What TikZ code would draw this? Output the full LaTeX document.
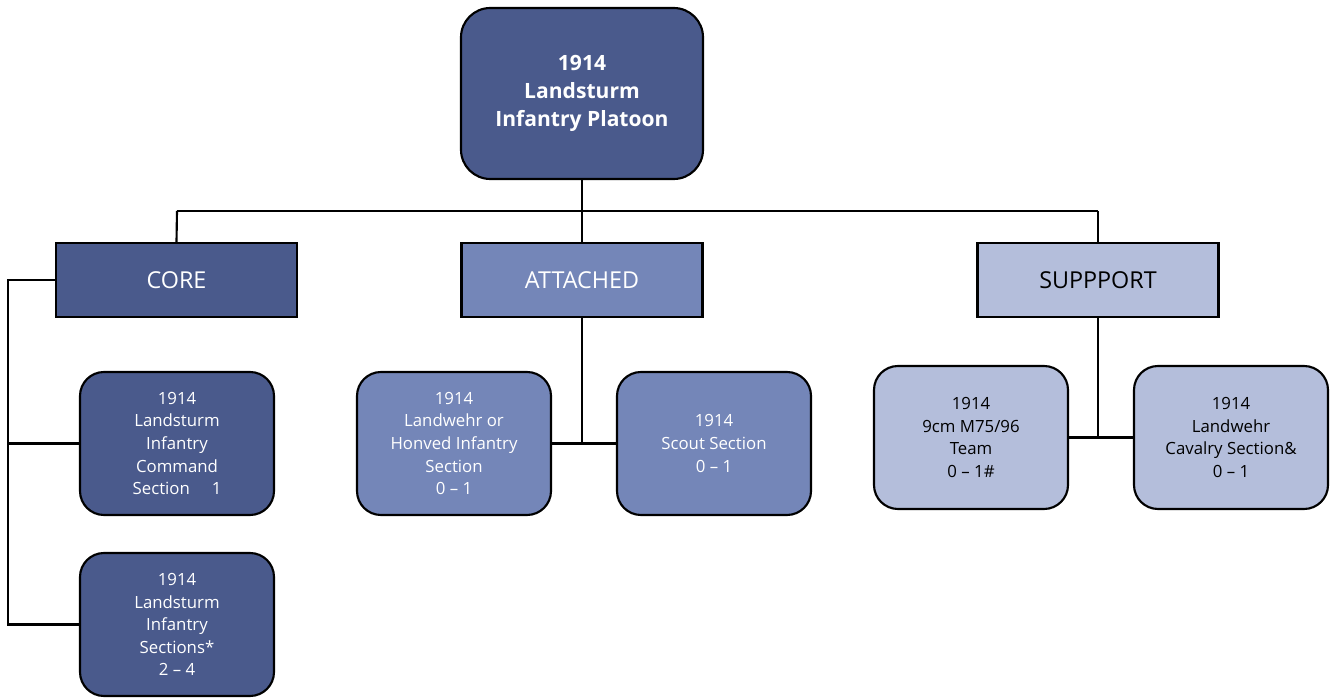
\documentclass[tikz,border=0pt]{standalone}
\usepackage{fontspec}
\setmainfont{Open Sans}
\definecolor{darkblue}{RGB}{74,90,140}
\definecolor{midblue}{RGB}{116,134,184}
\definecolor{lightblue}{RGB}{180,190,219}
\begin{document}
\begin{tikzpicture}[x=0.75pt,y=-0.75pt,
  every node/.style={inner sep=0pt, align=center},
  link/.style={draw=black, line width=1.6pt},
  headbox/.style={draw=black, line width=1.6pt, fill=darkblue, text=white, rounded corners=22pt,
    minimum width=181.5pt, minimum height=128.25pt, font=\bfseries\fontsize{15.8}{21}\selectfont},
  catbox/.style={draw=black, line width=1.6pt, minimum width=180.75pt, minimum height=55.5pt,
    font=\fontsize{17.5}{20}\selectfont},
  unitbox/.style={draw=black, line width=1.6pt, rounded corners=18pt,
    minimum width=145.5pt, minimum height=107.25pt, font=\fontsize{12.6}{16.9}\selectfont},
  darkfill/.style={fill=darkblue, text=white},
  midfill/.style={fill=midblue, text=white},
  lightfill/.style={fill=lightblue, text=black}]
\useasboundingbox (0,0) rectangle (1336,698);

% headquarters
\node[headbox] (top) at (582,93.5) {1914\\Landsturm\\Infantry Platoon};

% branches
\node[catbox, darkfill] (core) at (176.5,280) {CORE};
\node[catbox, midfill] (att) at (582,280) {ATTACHED};
\node[catbox, lightfill] (sup) at (1098,280) {SUPPPORT};

% core units
\node[unitbox, darkfill] (core1) at (177,443.5) {1914\\Landsturm\\Infantry\\Command\\Section\hspace{1.3em}1};
\node[unitbox, darkfill] (core2) at (177,624.5) {1914\\Landsturm\\Infantry\\Sections*\\2 – 4};

% attached units
\node[unitbox, midfill] (att1) at (454,443.5) {1914\\Landwehr or\\Honved Infantry\\Section\\0 – 1};
\node[unitbox, midfill] (att2) at (714,443.5) {1914\\Scout Section\\0 – 1};

% support units
\node[unitbox, lightfill] (sup1) at (971,437.5) {1914\\9cm M75/96\\Team\\0 – 1\#};
\node[unitbox, lightfill] (sup2) at (1231,437.5) {1914\\Landwehr\\Cavalry Section\&\\0 – 1};

% top-level bus
\coordinate (busL) at (177,211);
\coordinate (busR) at (1098,211);
\draw[link] (top.south) -- (top.south |- busL);
\draw[link] (busL) -- (busR);
\draw[link] (busL) -- (core.north);
\draw[link] (top.south |- busL) -- (att.north);
\draw[link] (busR) -- (sup.north);

% core spine
\coordinate (spine) at (8,280);
\draw[link] (core.west) -- (spine) |- (core2.west);
\draw[link] (spine |- core1.west) -- (core1.west);

% attached links
\draw[link] (att.south) -- (att.south |- att1.east);
\draw[link] (att1.east) -- (att2.west);

% support links
\draw[link] (sup.south) -- (sup.south |- sup1.east);
\draw[link] (sup1.east) -- (sup2.west);
\end{tikzpicture}
\end{document}
